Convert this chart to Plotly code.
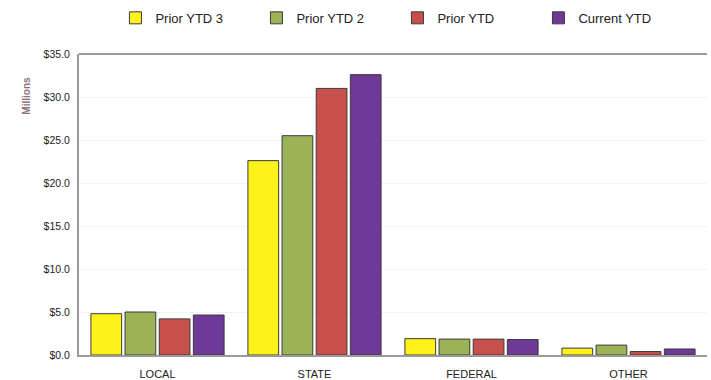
import plotly.graph_objects as go

categories = ["LOCAL", "STATE", "FEDERAL", "OTHER"]
series_names = ["Prior YTD 3", "Prior YTD 2", "Prior YTD", "Current YTD"]
prior_ytd3 = [4.8, 22.6, 1.9, 0.8]
prior_ytd2 = [5.0, 25.5, 1.85, 1.15]
prior_ytd = [4.2, 31.0, 1.85, 0.4]
current_ytd = [4.65, 32.6, 1.8, 0.7]
tick_vals = [0, 5, 10, 15, 20, 25, 30, 35]
tick_text = ["$0.0", "$5.0", "$10.0", "$15.0", "$20.0", "$25.0", "$30.0", "$35.0"]

colors = ["#FFF21A", "#9BB257", "#C8504C", "#6F3A97"]
values = [prior_ytd3, prior_ytd2, prior_ytd, current_ytd]

fig = go.Figure()
for name, vals, col in zip(series_names, values, colors):
    fig.add_trace(go.Bar(
        x=categories, y=vals, name=name,
        marker=dict(color=col, line=dict(color="#3a3a3a", width=1)),
    ))

fig.update_layout(
    width=711, height=380,
    margin=dict(l=79, r=4, t=54, b=25, autoexpand=False),
    paper_bgcolor="white", plot_bgcolor="white",
    barmode="group", bargap=0.13, bargroupgap=0.1,
    font=dict(family="Liberation Sans, Arial, sans-serif", color="#222222"),
    legend=dict(orientation="h", x=0.058, xanchor="left", y=1.12, yanchor="middle",
                font=dict(size=13), itemwidth=30, tracegroupgap=0,
                entrywidthmode="pixels", entrywidth=96),
    showlegend=True,
    xaxis=dict(showline=True, linecolor="#9a9a9a", linewidth=2, ticks="",
               tickfont=dict(size=11), showgrid=False, ticklabelstandoff=8),
    yaxis=dict(range=[0, 35], tickvals=tick_vals, ticktext=tick_text,
               showline=True, linecolor="#9a9a9a", linewidth=2, mirror=False,
               gridcolor="#f3f3f3", tickfont=dict(size=10.5, color="#222222"),
               ticks="", zeroline=False, ticklabelstandoff=5),
    annotations=[dict(text="<b>Millions</b>", textangle=-90, xref="paper", yref="paper",
                      x=-0.097, y=0.93, showarrow=False,
                      font=dict(size=10, color="#8a6f7d"))],
    shapes=[dict(type="line", xref="paper", yref="paper", x0=0, x1=1, y0=1, y1=1,
                 line=dict(color="#9a9a9a", width=2))],
)

fig.write_html("out.html")
